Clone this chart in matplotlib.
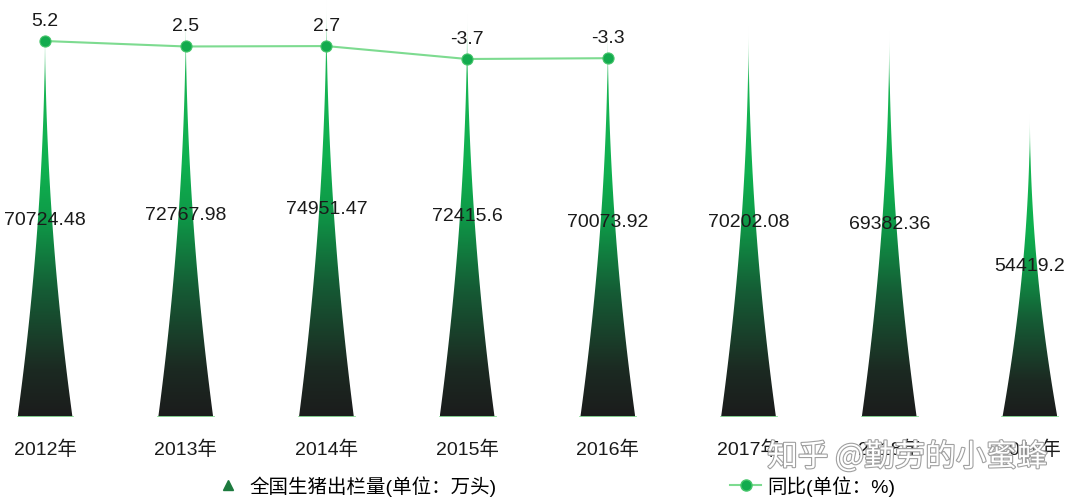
import numpy as np
import matplotlib
matplotlib.use("Agg")
import matplotlib.pyplot as plt
from matplotlib.colors import LinearSegmentedColormap
from matplotlib.patches import Polygon
from matplotlib.lines import Line2D
import matplotlib.patheffects as pe

plt.rcParams['font.family'] = ['Liberation Sans', 'Noto Sans CJK SC']

years = ["2012年", "2013年", "2014年", "2015年", "2016年", "2017年", "2018年", "2019年"]
output = [70724.48, 72767.98, 74951.47, 72415.6, 70073.92, 70202.08, 69382.36, 54419.2]
yoy = [5.2, 2.5, 2.7, -3.7, -3.3]

bar_name = "全国生猪出栏量(单位：万头)"
line_name = "同比(单位：%)"

spike_cmap = LinearSegmentedColormap.from_list("spike", [
	(0.0, "#1b1c1c"), (0.12, "#1c2a22"), (0.32, "#155c35"),
	(0.5, "#0e9a48"), (0.62, "#0fb04f"), (0.85, "#18b553"), (0.95, "#9ee0b4"), (1.0, "#ffffff")])

fig = plt.figure(figsize = (10.8, 5.02), dpi = 100)
ax = fig.add_axes([0, 84 / 502, 1, 418 / 502])
ax2 = ax.twinx()

half = 0.195
grad = np.linspace(0, 1, 256).reshape(-1, 1)
h = np.linspace(0, 1, 100)
for i, v in enumerate(output):
	w = half * (1 - h) ** 1.95
	xs = np.concatenate([i - w, (i + w)[::-1]])
	ys = np.concatenate([h * v, (h * v)[::-1]])
	poly = Polygon(np.column_stack([xs, ys]), closed = True, facecolor = "none", edgecolor = "none")
	ax.add_patch(poly)
	im = ax.imshow(grad, cmap = spike_cmap, origin = "lower", aspect = "auto",
		extent = [i - half, i + half, 0, v], zorder = 2)
	im.set_clip_path(poly)
	ax.plot([i - half, i + half], [0, 0], color = "#8fe29c", lw = 2, zorder = 3)
	ax.text(i, v / 2, str(v), ha = "center", va = "center", fontsize = 14,
		color = "#1a1a1a", zorder = 5)

ax.set_xlim(-0.320, 7.356)
ax.set_ylim(0, 75000)
ax.axis("off")

x_line = np.arange(len(yoy))
ax2.plot(x_line, yoy, color = "#7ddb90", lw = 1.5, marker = "o", markersize = 8,
	markerfacecolor = "#13ab4e", markeredgecolor = "#48c66c", markeredgewidth = 0.8, zorder = 6)
for x, v in zip(x_line, yoy):
	ax2.annotate(str(v), (x, v), xytext = (0, 15), textcoords = "offset points",
		ha = "center", va = "center", fontsize = 14, color = "#1a1a1a")
ax2.set_ylim(-180.9, 26.0)
ax2.axis("off")

for i, lab in enumerate(years):
	ax.text(i, -32 * 75000 / 418, lab, ha = "center", va = "center",
		fontsize = 14, color = "#1a1a1a")

handles = [
	Line2D([], [], color = "#1c7a3e", marker = "^", linestyle = "none", markersize = 7),
	Line2D([], [], color = "#7ddb90", marker = "o", markersize = 8,
		markerfacecolor = "#13ab4e", markeredgecolor = "#48c66c")]
fig.legend(handles, [bar_name, line_name], loc = "center", bbox_to_anchor = (0.513, 0.03),
	ncol = 2, frameon = False, fontsize = 14, columnspacing = 12, handlelength = 1.6,
	handletextpad = 0.3)

# watermark
fig.text(0.84, 0.088, "知乎 @勤劳的小蜜蜂", ha = "center", va = "center", fontsize = 22,
	color = "white", family = ["Noto Sans CJK SC", "DejaVu Sans"],
	path_effects = [pe.Stroke(linewidth = 1.6, foreground = "#a0a0a0"), pe.Normal()], zorder = 10)

fig.savefig("out.png", dpi = 100)
